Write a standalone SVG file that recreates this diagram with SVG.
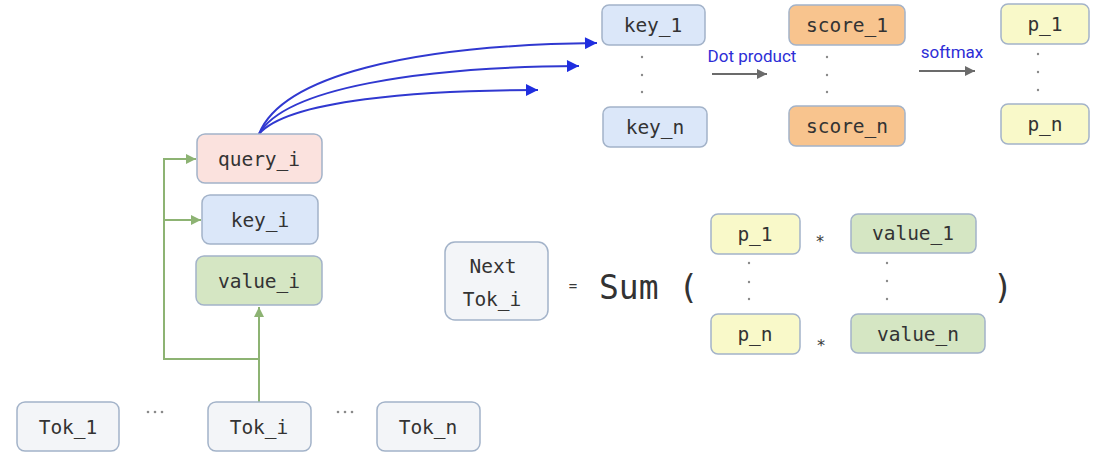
<svg xmlns="http://www.w3.org/2000/svg" width="1095" height="453" viewBox="0 0 1095 453">
  <style>
    .box { stroke: #a3b3c9; stroke-width: 1.5; }
    .q { fill: #fbe2de; }
    .k { fill: #dbe7f9; }
    .v { fill: #d5e6c3; }
    .s { fill: #f8c48e; }
    .p { fill: #f9f9c9; }
    .t { fill: #f3f5f8; }
    .lbl { font-family: "DejaVu Sans Mono", "Liberation Mono", monospace; font-size: 19.5px; fill: #333333; text-anchor: middle; }
    .op { font-family: "DejaVu Sans Mono", "Liberation Mono", monospace; fill: #3a3a3a; text-anchor: middle; }
    .big { font-family: "DejaVu Sans Mono", "Liberation Mono", monospace; font-size: 33px; fill: #333333; }
    .note { font-family: "Roboto", "Liberation Sans", sans-serif; font-size: 17px; fill: #2d2dd6; text-anchor: middle; }
    .dot { fill: #8a8a8a; }
    .green { fill: none; stroke: #8db373; stroke-width: 2; }
    .blue { fill: none; stroke: #3038d0; stroke-width: 2; }
    .gray { fill: none; stroke: #6b6b6b; stroke-width: 2; }
  </style>
  <defs>
    <marker id="ah-green" viewBox="0 0 10 10" refX="10" refY="5" markerWidth="5" markerHeight="5" markerUnits="strokeWidth" orient="auto">
      <path d="M0,0 L10,5 L0,10 Z" fill="#8db373"/>
    </marker>
    <marker id="ah-blue" viewBox="0 0 10 10" refX="10" refY="5" markerWidth="6.5" markerHeight="6" markerUnits="strokeWidth" orient="auto">
      <path d="M0,0 L10,5 L0,10 Z" fill="#1f2ee0"/>
    </marker>
    <marker id="ah-gray" viewBox="0 0 10 10" refX="10" refY="5" markerWidth="5" markerHeight="5" markerUnits="strokeWidth" orient="auto">
      <path d="M0,0 L10,5 L0,10 Z" fill="#6b6b6b"/>
    </marker>
  </defs>

  <rect width="1095" height="453" fill="#ffffff"/>

  <!-- connectors -->
  <g id="connectors">
    <path class="green" d="M259,402 V307" marker-end="url(#ah-green)"/>
    <path class="green" d="M259,359 H164 V159 H196" marker-end="url(#ah-green)"/>
    <path class="green" d="M164,220 H201" marker-end="url(#ah-green)"/>
    <path class="blue" d="M259,134 C282,76 410,45 597,43" marker-end="url(#ah-blue)"/>
    <path class="blue" d="M259,134 C285,88 420,67 579,66" marker-end="url(#ah-blue)"/>
    <path class="blue" d="M259,134 C288,100 420,90 538,90" marker-end="url(#ah-blue)"/>
    <path class="gray" d="M712,74 H767" marker-end="url(#ah-gray)"/>
    <path class="gray" d="M919,71 H975" marker-end="url(#ah-gray)"/>
  </g>

  <!-- edge labels -->
  <text class="note" x="752" y="62">Dot product</text>
  <text class="note" x="952" y="58">softmax</text>

  <!-- token row -->
  <g id="tok_1"><rect class="box t" x="17" y="402" width="102" height="49" rx="8"/><text class="lbl" x="68" y="434">Tok_1</text></g>
  <g id="tok_i"><rect class="box t" x="208" y="402" width="103" height="49" rx="8"/><text class="lbl" x="259" y="434">Tok_i</text></g>
  <g id="tok_n"><rect class="box t" x="377" y="402" width="103" height="49" rx="8"/><text class="lbl" x="428" y="434">Tok_n</text></g>
  <g id="ellipsis">
    <circle class="dot" cx="148" cy="412" r="1.3"/><circle class="dot" cx="155" cy="412" r="1.3"/><circle class="dot" cx="162" cy="412" r="1.3"/>
    <circle class="dot" cx="338" cy="412" r="1.3"/><circle class="dot" cx="345" cy="412" r="1.3"/><circle class="dot" cx="352" cy="412" r="1.3"/>
  </g>

  <!-- projections of token i -->
  <g id="query_i"><rect class="box q" x="197" y="134" width="125" height="49" rx="8"/><text class="lbl" x="259" y="166">query_i</text></g>
  <g id="key_i"><rect class="box k" x="202" y="195" width="116" height="49" rx="8"/><text class="lbl" x="260" y="227">key_i</text></g>
  <g id="value_i"><rect class="box v" x="196" y="256" width="126" height="49" rx="8"/><text class="lbl" x="259" y="288">value_i</text></g>

  <!-- keys -->
  <g id="key_1"><rect class="box k" x="602" y="5" width="103" height="40" rx="7"/><text class="lbl" x="653" y="32">key_1</text></g>
  <g id="key_n"><rect class="box k" x="603" y="107" width="104" height="40" rx="7"/><text class="lbl" x="655" y="134">key_n</text></g>
  <g id="key_dots"><circle class="dot" cx="642" cy="57" r="1.2"/><circle class="dot" cx="642" cy="75" r="1.2"/><circle class="dot" cx="642" cy="92" r="1.2"/></g>

  <!-- scores -->
  <g id="score_1"><rect class="box s" x="789" y="5" width="116" height="40" rx="7"/><text class="lbl" x="847" y="32">score_1</text></g>
  <g id="score_n"><rect class="box s" x="789" y="106" width="116" height="40" rx="7"/><text class="lbl" x="847" y="133">score_n</text></g>
  <g id="score_dots"><circle class="dot" cx="827" cy="57" r="1.2"/><circle class="dot" cx="827" cy="75" r="1.2"/><circle class="dot" cx="827" cy="92" r="1.2"/></g>

  <!-- probabilities -->
  <g id="p_1_top"><rect class="box p" x="1001" y="4" width="88" height="40" rx="7"/><text class="lbl" x="1045" y="31">p_1</text></g>
  <g id="p_n_top"><rect class="box p" x="1001" y="104" width="88" height="40" rx="7"/><text class="lbl" x="1045" y="131">p_n</text></g>
  <g id="p_dots_top"><circle class="dot" cx="1038" cy="54" r="1.2"/><circle class="dot" cx="1038" cy="72" r="1.2"/><circle class="dot" cx="1038" cy="90" r="1.2"/></g>

  <!-- weighted sum -->
  <g id="next_tok_i">
    <rect class="box t" x="445" y="242" width="103" height="78" rx="10"/>
    <text class="lbl" x="493" y="273">Next</text>
    <text class="lbl" x="492" y="306">Tok_i</text>
  </g>
  <text class="op" x="573" y="291" font-size="14">=</text>
  <text class="big" x="599" y="299">Sum (</text>
  <text class="big" x="993" y="299">)</text>

  <g id="p_1"><rect class="box p" x="711" y="214" width="89" height="40" rx="7"/><text class="lbl" x="755" y="241">p_1</text></g>
  <g id="p_n"><rect class="box p" x="711" y="314" width="89" height="40" rx="7"/><text class="lbl" x="755" y="341">p_n</text></g>
  <g id="p_dots"><circle class="dot" cx="749" cy="263" r="1.2"/><circle class="dot" cx="749" cy="282" r="1.2"/><circle class="dot" cx="749" cy="299" r="1.2"/></g>

  <text class="op" x="820" y="247" font-size="16">*</text>
  <text class="op" x="821" y="351" font-size="16">*</text>

  <g id="value_1"><rect class="box v" x="851" y="214" width="125" height="39" rx="7"/><text class="lbl" x="913" y="240">value_1</text></g>
  <g id="value_n"><rect class="box v" x="851" y="314" width="134" height="39" rx="7"/><text class="lbl" x="918" y="341">value_n</text></g>
  <g id="value_dots"><circle class="dot" cx="887" cy="263" r="1.2"/><circle class="dot" cx="887" cy="281" r="1.2"/><circle class="dot" cx="887" cy="299" r="1.2"/></g>
</svg>
